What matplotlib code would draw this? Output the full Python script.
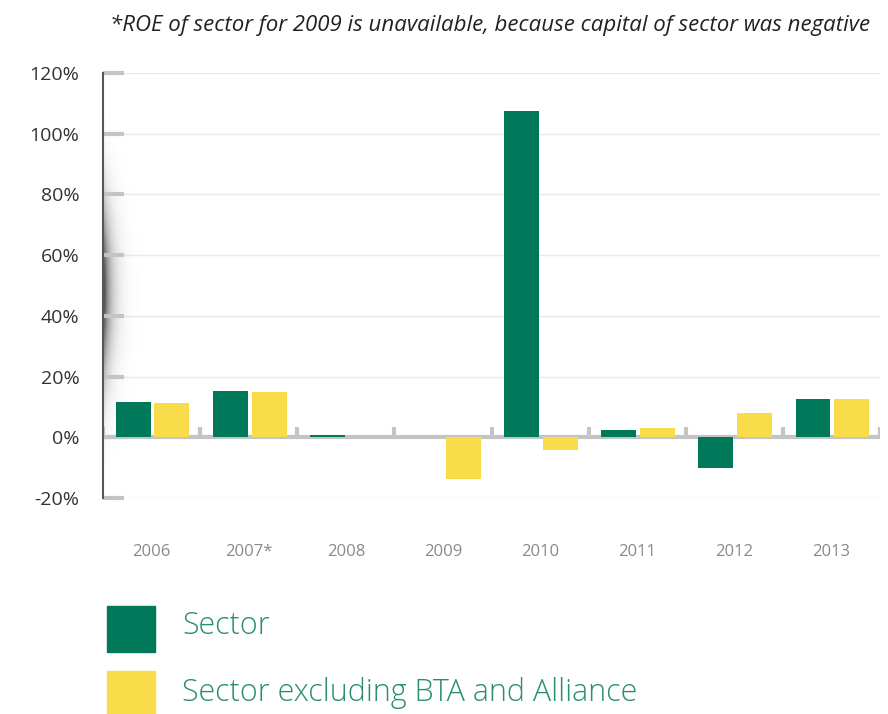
import numpy as np
import matplotlib.pyplot as plt
from matplotlib.patches import Rectangle

years = ['2006', '2007*', '2008', '2009', '2010', '2011', '2012', '2013']
sector = [11.5, 15.2, 0.7, 0.0, 107.5, 2.3, -10.2, 12.5]
sector_ex = [11.2, 14.8, 0.2, -13.9, -4.3, 2.9, 7.9, 12.5]
yticks = [-20, 0, 20, 40, 60, 80, 100, 120]

green = '#00795a'
yellow = '#f8dc4a'

plt.rcParams['font.family'] = ['Open Sans', 'DejaVu Sans']

fig = plt.figure(figsize=(8.88, 7.14), dpi=100)
ax = fig.add_axes([0.116, 0.3025, 0.875, 0.5955])

x = np.arange(len(years))
w = 0.36
ax.bar(x - 0.19, sector, w, color=green, zorder=3)
ax.bar(x + 0.21, sector_ex, w, color=yellow, zorder=3)

ax.set_xlim(-0.5, 7.5)
ax.set_ylim(-20, 120)

# shadow next to the left axis
nx, ny = 60, 200
gx = np.linspace(0, 1, nx)
gy = np.linspace(-20, 120, ny)
alpha = np.exp(-gx * 5)[None, :] * np.exp(-((gy - 48) / 28) ** 2)[:, None] * 0.8
img = np.zeros((ny, nx, 4))
img[..., 3] = alpha
ax.imshow(img, extent=(-0.5, -0.12, -20, 120), origin='lower', aspect='auto', zorder=1)

# grid and baseline
for t in yticks:
    ax.axhline(t, color='#e9e9e9', lw=1, zorder=0)
ax.axhline(0, color='#c4c4c4', lw=3, zorder=2)
ax.vlines(np.arange(-0.5, 8, 1), 0, 3.3, color='#c4c4c4', lw=3, zorder=2)

for s in ['top', 'right', 'bottom']:
    ax.spines[s].set_visible(False)
ax.spines['left'].set_color('#555555')
ax.spines['left'].set_linewidth(1.5)
ax.spines['left'].set_zorder(4)

ax.set_yticks(yticks)
ax.set_yticklabels([f'{t}%' for t in yticks], fontsize=14, color='#333333')
ax.tick_params(axis='y', direction='in', length=15, width=3, color='#c4c4c4', pad=17)
ax.set_xticks(x)
ax.set_xticklabels(years, fontsize=12, color='#8a8a8a')
ax.tick_params(axis='x', length=0, pad=33)

fig.text(0.98, 0.965, '*ROE of sector for 2009 is unavailable, because capital of sector was negative',
         ha='right', va='center', fontsize=16, style='italic', color='#222222')

# legend
fig.patches.append(Rectangle((107 / 888, 1 - 652 / 714), 48 / 888, 46 / 714,
                             transform=fig.transFigure, color=green))
fig.patches.append(Rectangle((107 / 888, 0), 48 / 888, 43 / 714,
                             transform=fig.transFigure, color=yellow))
fig.text(182 / 888, 1 - 626 / 714, 'Sector', fontsize=22, color='#2a8f6c',
         fontweight='light', va='center')
fig.text(182 / 888, 1 - 693 / 714, 'Sector excluding BTA and Alliance', fontsize=22,
         color='#2a8f6c', fontweight='light', va='center')

fig.savefig('out.png', dpi=100)
